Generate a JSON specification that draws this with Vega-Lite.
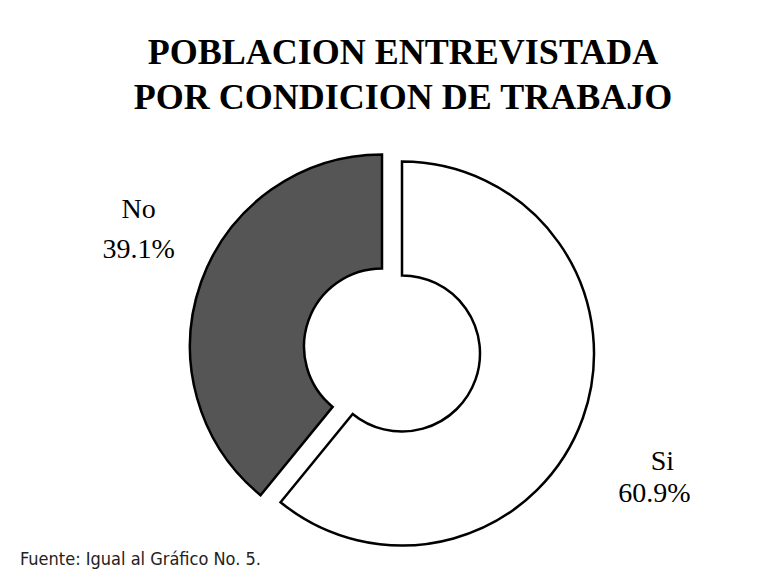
{
  "$schema": "https://vega.github.io/schema/vega-lite/v6.json",
  "padding": {"left": 10, "right": 0, "top": 34, "bottom": 0},
  "background": "white",
  "spacing": 0,
  "config": {"view": {"stroke": null}},
  "datasets": {
    "d": [
      {"cat": "Si", "value": 0.609},
      {"cat": "No", "value": 0.391}
    ]
  },
  "vconcat": [
    {
      "title": {
        "text": ["POBLACION ENTREVISTADA", "POR CONDICION DE TRABAJO"],
        "font": "Liberation Serif",
        "fontSize": 36,
        "fontWeight": "bold",
        "lineHeight": 45,
        "anchor": "middle",
        "color": "#000000",
        "offset": 33,
        "dx": 11
      },
      "width": 764,
      "height": 400,
      "data": {"name": "d"},
      "encoding": {
        "theta": {"field": "value", "type": "quantitative", "stack": true},
        "order": {"field": "cat", "sort": "descending"}
      },
      "layer": [
        {
          "mark": {"type": "arc", "radius": 192, "innerRadius": 78, "xOffset": 10, "yOffset": 3.5, "stroke": "#000000", "strokeWidth": 2.5},
          "encoding": {
            "fill": {"field": "cat", "type": "nominal", "scale": {"domain": ["Si", "No"], "range": ["#ffffff", "#555555"]}, "legend": null},
            "opacity": {"condition": {"test": "datum.cat === 'Si'", "value": 1}, "value": 0}
          }
        },
        {
          "mark": {"type": "arc", "radius": 192, "innerRadius": 78, "xOffset": -10, "yOffset": -3.5, "stroke": "#000000", "strokeWidth": 2.5},
          "encoding": {
            "fill": {"field": "cat", "type": "nominal", "scale": {"domain": ["Si", "No"], "range": ["#ffffff", "#555555"]}, "legend": null},
            "opacity": {"condition": {"test": "datum.cat === 'No'", "value": 1}, "value": 0}
          }
        },
        {
          "mark": {"type": "text", "radius": 269, "dy": -50, "font": "Liberation Serif", "fontSize": 28, "color": "#000000"},
          "encoding": {
            "text": {"field": "cat", "type": "nominal"},
            "opacity": {"condition": {"test": "datum.cat === 'No'", "value": 1}, "value": 0}
          }
        },
        {
          "mark": {"type": "text", "radius": 269, "dy": -10, "font": "Liberation Serif", "fontSize": 28, "color": "#000000"},
          "encoding": {
            "text": {"field": "value", "type": "quantitative", "format": ".1%"},
            "opacity": {"condition": {"test": "datum.cat === 'No'", "value": 1}, "value": 0}
          }
        },
        {
          "mark": {"type": "text", "radius": 285, "dx": 2, "dy": 16, "font": "Liberation Serif", "fontSize": 28, "color": "#000000"},
          "encoding": {
            "text": {"field": "cat", "type": "nominal"},
            "opacity": {"condition": {"test": "datum.cat === 'Si'", "value": 1}, "value": 0}
          }
        },
        {
          "mark": {"type": "text", "radius": 285, "dx": -6, "dy": 48, "font": "Liberation Serif", "fontSize": 28, "color": "#000000"},
          "encoding": {
            "text": {"field": "value", "type": "quantitative", "format": ".1%"},
            "opacity": {"condition": {"test": "datum.cat === 'Si'", "value": 1}, "value": 0}
          }
        }
      ]
    },
    {
      "title": {
        "text": "Fuente: Igual al Gráfico No. 5.",
        "anchor": "start",
        "font": "DejaVu Sans Condensed, Liberation Sans",
        "fontSize": 18,
        "fontWeight": "normal",
        "color": "#222222",
        "offset": 0,
        "dx": 10,
        "dy": -2
      },
      "width": 764,
      "height": 1,
      "data": {"values": []},
      "mark": "point"
    }
  ]
}
